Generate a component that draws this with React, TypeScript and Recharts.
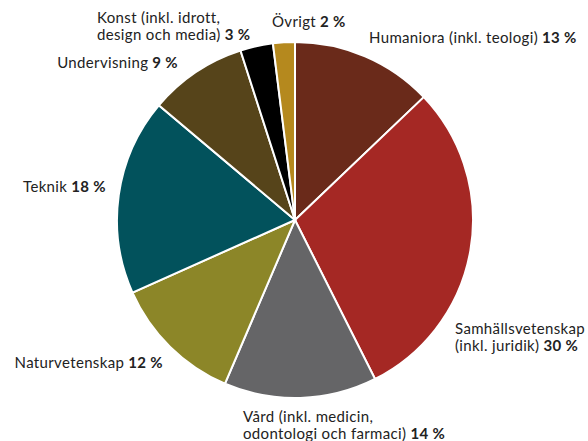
import React from 'react';
import { PieChart, Pie, Cell } from 'recharts';

// Utbildningsområden, andel i procent (medurs från klockan 12)
const categories = [
  'Humaniora (inkl. teologi)',
  'Samhällsvetenskap\n(inkl. juridik)',
  'Vård (inkl. medicin,\nodontologi och farmaci)',
  'Naturvetenskap',
  'Teknik',
  'Undervisning',
  'Konst (inkl. idrott,\ndesign och media)',
  'Övrigt',
];
const shares = [13, 30, 14, 12, 18, 9, 3, 2];
const colors = ['#6a2a1a', '#a52824', '#656567', '#8c8628', '#02525c', '#56441a', '#000000', '#b5891e'];

// label placement relative to pie centre
const labelPos: Record<string, { dx: number; dy: number; anchor: 'start' | 'end' }> = {
  'Humaniora (inkl. teologi)': { dx: 74, dy: -177, anchor: 'start' },
  'Samhällsvetenskap\n(inkl. juridik)': { dx: 160, dy: 114, anchor: 'start' },
  'Vård (inkl. medicin,\nodontologi och farmaci)': { dx: -52, dy: 202, anchor: 'start' },
  'Naturvetenskap': { dx: -132, dy: 148, anchor: 'end' },
  'Teknik': { dx: -189, dy: -28, anchor: 'end' },
  'Undervisning': { dx: -117, dy: -152, anchor: 'end' },
  'Konst (inkl. idrott,\ndesign och media)': { dx: -198, dy: -197, anchor: 'start' },
  'Övrigt': { dx: -23, dy: -193, anchor: 'start' },
};

const data = categories.map((name, i) => ({ name, value: shares[i] }));

const FONT = 'Lato, "DejaVu Sans", sans-serif';

const renderLabel = (props: any) => {
  const { cx, cy, name, value } = props;
  const pos = labelPos[name];
  if (!pos) return null;
  const lines = String(name).split('\n');
  const x = cx + pos.dx;
  return (
    <text
      x={x}
      y={cy + pos.dy}
      textAnchor={pos.anchor}
      fill="#222"
      fontSize={15}
      letterSpacing={0.35}
      fontFamily={FONT}
    >
      {lines.map((line, i) => (
        <tspan key={i} x={x} dy={i === 0 ? 0 : 17}>
          {line}
          {i === lines.length - 1 && (
            <tspan fontWeight="bold">{` ${value} %`}</tspan>
          )}
        </tspan>
      ))}
    </text>
  );
};

const App: React.FC = () => {
  return (
    <div style={{ position: 'absolute', left: 0, top: 0, width: 588, height: 441, background: '#fff' }}>
      <PieChart width={588} height={441} margin={{ top: 0, right: 0, bottom: 0, left: 0 }}>
        <Pie
          data={data}
          dataKey="value"
          nameKey="name"
          cx={295}
          cy={220}
          outerRadius={178}
          startAngle={90}
          endAngle={-270}
          stroke="#fff"
          strokeWidth={2}
          label={renderLabel}
          labelLine={false}
          isAnimationActive={false}
        >
          {data.map((d, i) => (
            <Cell key={d.name} fill={colors[i]} />
          ))}
        </Pie>
      </PieChart>
    </div>
  );
};

export default App;
